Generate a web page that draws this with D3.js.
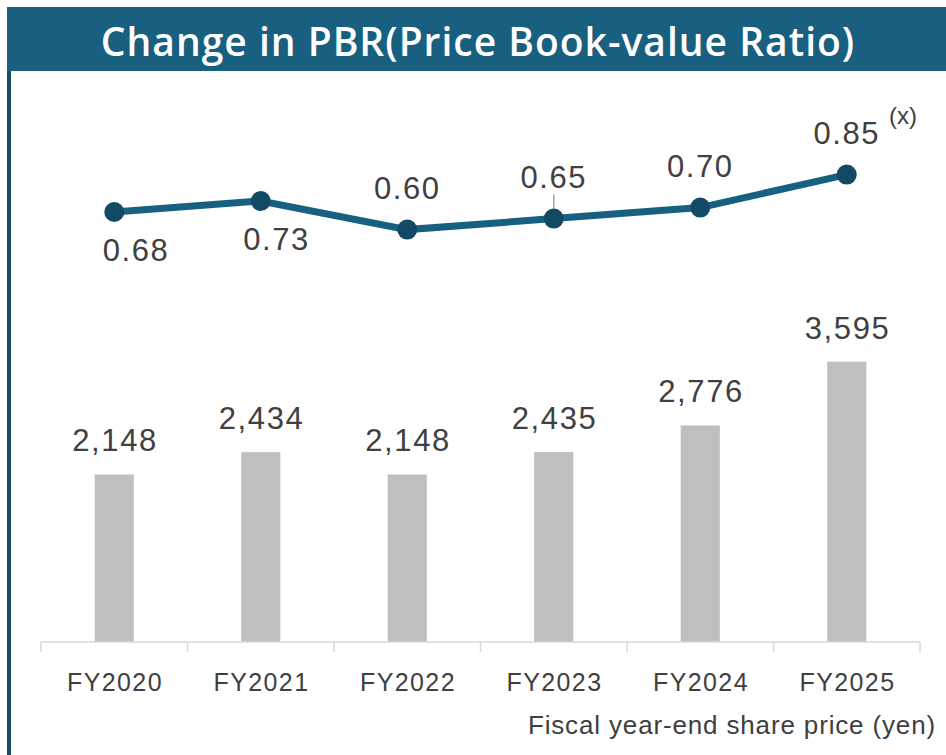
<!DOCTYPE html>
<html>
<head>
<meta charset="utf-8">
<script src="https://cdn.jsdelivr.net/npm/d3@7"></script>
<style>
  body { margin: 0; background: #fff; }
  svg { display: block; }
</style>
</head>
<body>
<script>
var years = ["FY2020", "FY2021", "FY2022", "FY2023", "FY2024", "FY2025"];
var sharePrice = [2148, 2434, 2148, 2435, 2776, 3595];
var pbr = [0.68, 0.73, 0.60, 0.65, 0.70, 0.85];
// where the pbr label sits relative to its point
var pbrLabelSide = ["below", "below", "above", "above", "above", "above"];

var w = 946;
var h = 755;
var textColor = "#404040";
var font = "'Liberation Sans', Arial, sans-serif";

var svg = d3.select("body")
  .append("svg")
  .attr("width", w)
  .attr("height", h);

// header banner and left rule
svg.append("rect")
  .attr("x", 7).attr("y", 7)
  .attr("width", w - 7).attr("height", 64)
  .attr("fill", "#185f80");
svg.append("rect")
  .attr("x", 7).attr("y", 71)
  .attr("width", 4).attr("height", h - 71)
  .attr("fill", "#16506c");
svg.append("text")
  .attr("x", 478).attr("y", 56)
  .attr("text-anchor", "middle")
  .attr("fill", "#fff")
  .style("font-family", "'Open Sans', 'Noto Sans', sans-serif")
  .style("font-weight", 600)
  .style("font-size", "39px")
  .style("letter-spacing", "1px")
  .text("Change in PBR(Price Book-value Ratio)");

var x = d3.scaleBand()
  .domain(years)
  .range([41, 920]);

var yBar = d3.scaleLinear()
  .domain([0, 4000])
  .range([642, 330]);

var yLine = d3.scaleLinear()
  .domain([0, 1])
  .range([361.6, 141.6]);

var barW = x.bandwidth() * 0.267;

// bars
var g = svg.selectAll(".bar")
  .data(years)
  .enter()
  .append("g")
  .classed("bar", true);

g.append("rect")
  .attr("x", function(d) { return x(d) + (x.bandwidth() - barW) / 2; })
  .attr("y", function(d, i) { return yBar(sharePrice[i]); })
  .attr("width", barW)
  .attr("height", function(d, i) { return yBar(0) - yBar(sharePrice[i]); })
  .attr("fill", "#bfbfbf");

g.append("text")
  .attr("x", function(d) { return x(d) + x.bandwidth() / 2 + 0.8; })
  .attr("y", function(d, i) { return yBar(sharePrice[i]) - 23; })
  .attr("text-anchor", "middle")
  .attr("fill", textColor)
  .style("font-family", font)
  .style("font-size", "31px")
  .style("letter-spacing", "1.6px")
  .text(function(d, i) { return d3.format(",")(sharePrice[i]); });

// x axis
var xAxis = d3.axisBottom(x)
  .tickSize(0)
  .tickPadding(31);

var axisG = svg.append("g")
  .attr("transform", "translate(0," + yBar(0) + ")")
  .call(xAxis);
axisG.select(".domain").remove();
axisG.selectAll("text")
  .attr("x", 0.7)
  .attr("fill", textColor)
  .style("font-family", font)
  .style("font-size", "25px")
  .style("letter-spacing", "1.4px");

var bounds = years.map(function(d) { return x(d); }).concat([x.range()[1]]);
axisG.append("line")
  .attr("x1", x.range()[0]).attr("x2", x.range()[1])
  .attr("y1", 0).attr("y2", 0)
  .attr("stroke", "#d9d9d9")
  .attr("stroke-width", 1.5);
axisG.selectAll(".bound")
  .data(bounds)
  .enter()
  .append("line")
  .classed("bound", true)
  .attr("x1", function(d) { return d; })
  .attr("x2", function(d) { return d; })
  .attr("y1", 0).attr("y2", 10)
  .attr("stroke", "#d9d9d9")
  .attr("stroke-width", 1.5);

// pbr line
var cx = function(d, i) { return x(years[i]) + x.bandwidth() / 2; };
var line = d3.line()
  .x(cx)
  .y(function(d) { return yLine(d); });

// leader for the FY2023 label
svg.append("line")
  .attr("x1", cx(null, 3)).attr("x2", cx(null, 3))
  .attr("y1", yLine(pbr[3]) - 24).attr("y2", yLine(pbr[3]))
  .attr("stroke", "#a6a6a6")
  .attr("stroke-width", 1.5);

svg.append("path")
  .datum(pbr)
  .attr("d", line)
  .attr("fill", "none")
  .attr("stroke", "#17607f")
  .attr("stroke-width", 7);

svg.selectAll(".dot")
  .data(pbr)
  .enter()
  .append("circle")
  .classed("dot", true)
  .attr("cx", cx)
  .attr("cy", function(d) { return yLine(d); })
  .attr("r", 10)
  .attr("fill", "#124a66");

svg.selectAll(".pbr-label")
  .data(pbr)
  .enter()
  .append("text")
  .classed("pbr-label", true)
  .attr("x", function(d, i) {
    if (i === 0) return cx(d, i) + 21.8;
    if (i === 1) return cx(d, i) + 15.8;
    return cx(d, i);
  })
  .attr("y", function(d, i) {
    return pbrLabelSide[i] === "below" ? yLine(d) + 49 : yLine(d) - 31;
  })
  .attr("text-anchor", "middle")
  .attr("fill", textColor)
  .style("font-family", font)
  .style("font-size", "31px")
  .style("letter-spacing", "1.6px")
  .text(function(d) { return d3.format(".2f")(d); });

svg.append("text")
  .attr("x", 903).attr("y", 124)
  .attr("text-anchor", "middle")
  .attr("fill", textColor)
  .style("font-family", font)
  .style("font-size", "24px")
  .text("(x)");

svg.append("text")
  .attr("x", 936).attr("y", 734)
  .attr("text-anchor", "end")
  .attr("fill", textColor)
  .style("font-family", font)
  .style("font-size", "26px")
  .style("letter-spacing", "0.85px")
  .text("Fiscal year-end share price (yen)");
</script>
</body>
</html>
